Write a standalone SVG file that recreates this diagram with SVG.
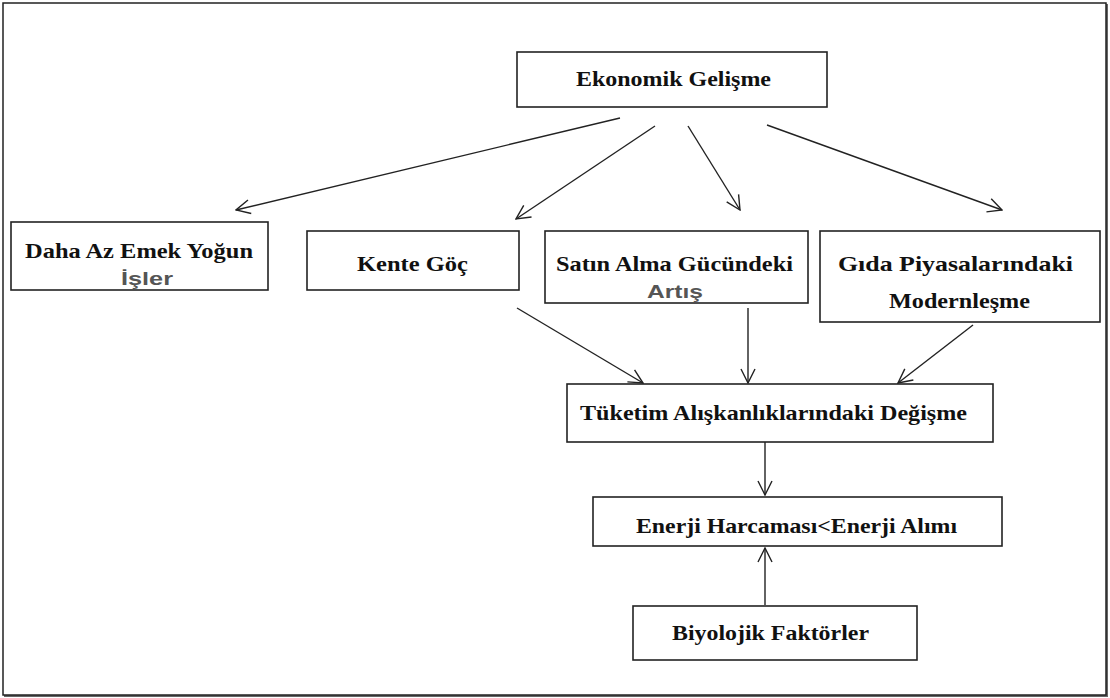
<svg xmlns="http://www.w3.org/2000/svg" width="1110" height="698" viewBox="0 0 1110 698">
<style>
.box{fill:#fff;stroke:#222;stroke-width:1.6}
.t{font-family:"Liberation Serif","Times New Roman",serif;font-weight:bold;font-size:21px;fill:#111}
.g{font-family:"Liberation Sans",Arial,sans-serif;font-weight:bold;font-size:19px;fill:#555}
.c{stroke:#222;stroke-width:1.4;fill:none;marker-end:url(#ah)}
</style>
<defs>
<marker id="ah" viewBox="0 0 16 16" refX="15" refY="8" markerWidth="16" markerHeight="16" markerUnits="userSpaceOnUse" orient="auto">
<path d="M1,1 L15,8 L1,15" fill="none" stroke="#222" stroke-width="1.4"/>
</marker>
</defs>
<rect x="0" y="0" width="1110" height="698" fill="#fff"/>
<rect x="4" y="4" width="1104" height="693" fill="#666"/>
<rect x="3" y="3" width="1103" height="692" fill="#fff" stroke="#222" stroke-width="1.5"/>
<g id="connectors">
<line class="c" x1="620" y1="118" x2="236" y2="210"/>
<line class="c" x1="655" y1="126" x2="516" y2="219"/>
<line class="c" x1="688" y1="126" x2="740" y2="210"/>
<line class="c" x1="767" y1="125" x2="1002" y2="210"/>
<line class="c" x1="517" y1="308" x2="643" y2="383"/>
<line class="c" x1="748" y1="308" x2="748" y2="383"/>
<line class="c" x1="973" y1="325" x2="898" y2="383"/>
<line class="c" x1="765" y1="442" x2="765" y2="495"/>
<line class="c" x1="765" y1="605" x2="765" y2="548"/>
</g>
<g id="n1"><rect class="box" x="517" y="52" width="310" height="55"/><text class="t" x="576" y="86" textLength="195" lengthAdjust="spacingAndGlyphs">Ekonomik Gelişme</text></g>
<g id="n2"><rect class="box" x="11" y="222" width="257" height="68"/><text class="t" x="25" y="258" textLength="228" lengthAdjust="spacingAndGlyphs">Daha Az Emek Yoğun</text><text class="g" x="121" y="285" textLength="52" lengthAdjust="spacingAndGlyphs">İşler</text></g>
<g id="n3"><rect class="box" x="307" y="231" width="212" height="59"/><text class="t" x="357" y="271" textLength="111" lengthAdjust="spacingAndGlyphs">Kente Göç</text></g>
<g id="n4"><rect class="box" x="545" y="231" width="263" height="72"/><text class="t" x="556" y="271" textLength="237" lengthAdjust="spacingAndGlyphs">Satın Alma Gücündeki</text><text class="g" x="647" y="298" textLength="56" lengthAdjust="spacingAndGlyphs">Artış</text></g>
<g id="n5"><rect class="box" x="820" y="231" width="280" height="91"/><text class="t" x="838" y="271" textLength="235" lengthAdjust="spacingAndGlyphs">Gıda Piyasalarındaki</text><text class="t" x="889" y="308" textLength="141" lengthAdjust="spacingAndGlyphs">Modernleşme</text></g>
<g id="n6"><rect class="box" x="567" y="384" width="426" height="58"/><text class="t" x="580" y="420" textLength="387" lengthAdjust="spacingAndGlyphs">Tüketim Alışkanlıklarındaki Değişme</text></g>
<g id="n7"><rect class="box" x="593" y="497" width="409" height="49"/><text class="t" x="636" y="533" textLength="321" lengthAdjust="spacingAndGlyphs">Enerji Harcaması&lt;Enerji Alımı</text></g>
<g id="n8"><rect class="box" x="633" y="606" width="284" height="54"/><text class="t" x="672" y="640" textLength="197" lengthAdjust="spacingAndGlyphs">Biyolojik Faktörler</text></g>
</svg>
